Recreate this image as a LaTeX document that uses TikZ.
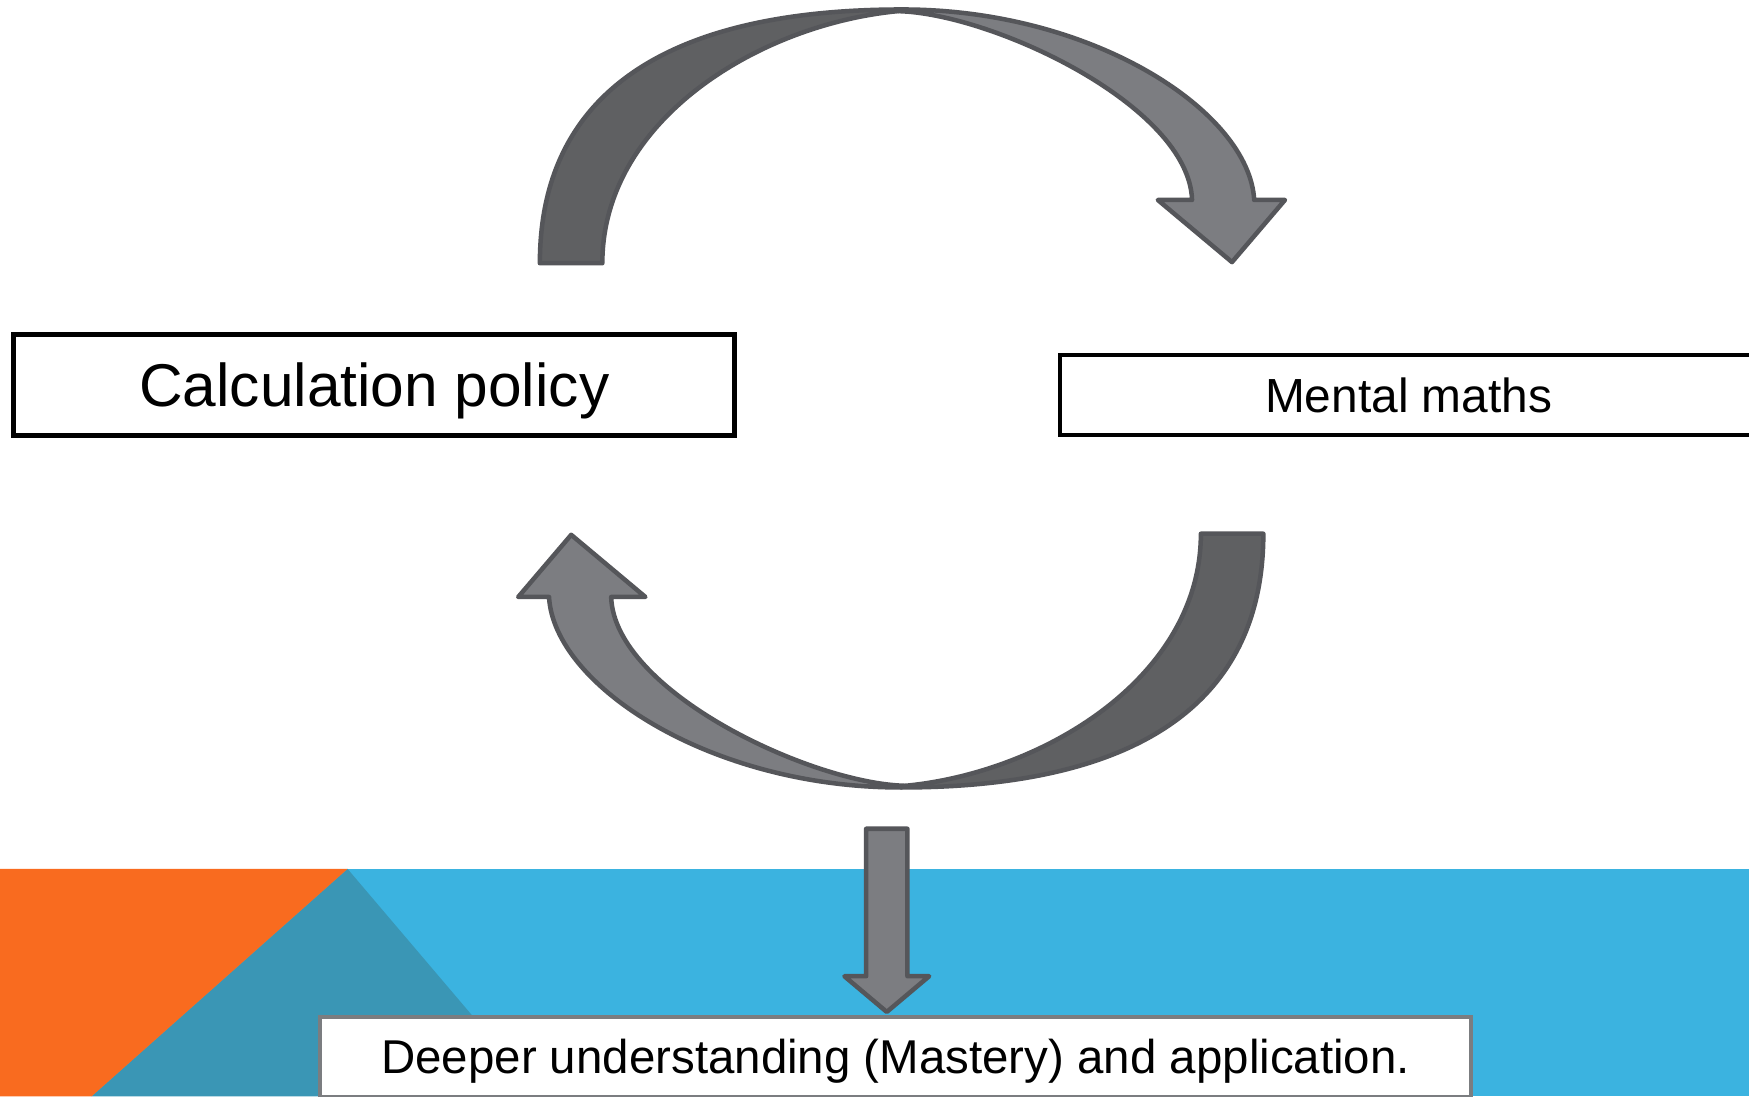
\documentclass[tikz,border=0pt]{standalone}
\usepackage{fontspec}
\setmainfont{Liberation Sans}
\usetikzlibrary{calc}

\definecolor{bandblue}{HTML}{3BB3E0}
\definecolor{bandteal}{HTML}{3A96B5}
\definecolor{bandorange}{HTML}{F96B1F}
\definecolor{ribbondark}{HTML}{5F6062}
\definecolor{ribbonlight}{HTML}{7C7D81}
\definecolor{ribbonedge}{HTML}{55565A}
\definecolor{boxgray}{HTML}{7B7D80}

\tikzset{
  ribbonback/.style={fill=ribbondark, draw=ribbonedge, line width=1.15pt, line join=round},
  ribbonfront/.style={fill=ribbonlight, draw=ribbonedge, line width=1.15pt, line join=round},
  labelbox/.style={rectangle, fill=white, inner sep=0pt, text depth=0pt},
}

% one curved block arrow: back half rising from the tail, front half with the head
\newcommand{\ribbonarrow}{%
  \filldraw[ribbonfront]
    (809,8.5) .. controls (980,8.5) and (1120,100) .. (1124.4,179.3)
    -- (1152,179.3) -- (1104.5,235) -- (1038,179.3) -- (1068.7,179.3)
    .. controls (1066,95) and (890,12) .. (805,10) -- cycle;
  \filldraw[ribbonback]
    (484,236) .. controls (484,85.9) and (594.5,8.5) .. (809,8.5)
    -- (805,10) .. controls (680,22) and (540,108) .. (540,236) -- cycle;
}

\begin{document}
\begin{tikzpicture}[x=0.01cm,y=-0.01cm]
\clip (0,0) rectangle (1568,983);
\fill[white] (0,0) rectangle (1568,983);

% coloured band along the bottom edge
\fill[bandblue] (0,779) rectangle (1568,983);
\fill[bandteal] (311.6,779) -- (485,983) -- (82,983) -- cycle;
\fill[bandorange] (0,779) -- (311.6,779) -- (82,983) -- (0,983) -- cycle;

% text boxes
\node[labelbox, draw=black, line width=1.28pt, minimum width=6.46cm, minimum height=0.912cm,
      text height=11.03pt, font=\fontsize{15.4}{18}\selectfont]
      (calc) at (335.6,345.2) {Calculation policy};
\node[labelbox, draw=black, line width=1.1pt, minimum width=6.243cm, minimum height=0.717cm,
      text height=8.74pt, font=\fontsize{12.2}{15}\selectfont]
      (mental) at (1262.9,354.2) {Mental maths};
\node[labelbox, draw=boxgray, line width=1pt, minimum width=10.31cm, minimum height=0.71cm,
      text height=8.66pt, font=\fontsize{12.1}{15}\selectfont]
      (deeper) at (803,947.5) {Deeper understanding (Mastery) and application.};

% upper curved arrow, and the same arrow turned half a turn for the lower one
\ribbonarrow
\begin{scope}[rotate around={180:(808.3,357.25)}]
  \ribbonarrow
\end{scope}

% block arrow down into the bottom box
\coordinate (dtail) at (795,743);
\coordinate (dtip) at ($(deeper.north -| dtail)+(0,-3)$);
\filldraw[ribbonfront]
  ($(dtail)+(-18.5,0)$) -- ($(dtail)+(18.5,0)$) -- ($(dtip)+(18.5,-32)$)
  -- ($(dtip)+(38,-32)$) -- (dtip) -- ($(dtip)+(-38,-32)$)
  -- ($(dtip)+(-18.5,-32)$) -- cycle;
\end{tikzpicture}
\end{document}
